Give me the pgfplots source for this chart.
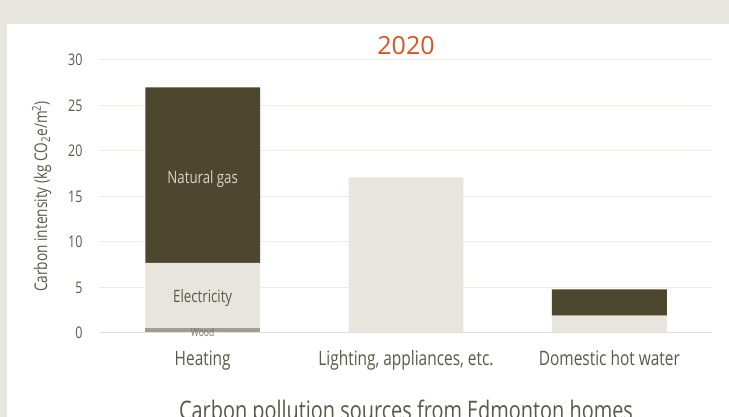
\documentclass[border=0pt]{standalone}
\usepackage{fontspec}
\setmainfont{Open Sans}[FakeStretch=0.78]
\newfontfamily\titlefont{Open Sans}
\usepackage{pgfplots}
\pgfplotsset{compat=1.18}

\definecolor{pagebg}{HTML}{E9E6DF}
\definecolor{darkbar}{HTML}{4D4730}
\definecolor{lightbar}{HTML}{E8E5DE}
\definecolor{woodbar}{HTML}{A09E93}
\definecolor{gridc}{HTML}{ECEAE4}
\definecolor{txt}{HTML}{5A5848}
\definecolor{gaslabel}{HTML}{D8D4C8}
\definecolor{orange2020}{HTML}{D9541E}

\begin{document}
\begin{tikzpicture}
\useasboundingbox (0pt,0pt) rectangle (729pt,417pt);
\fill[pagebg] (0pt,0pt) rectangle (729pt,417pt);
\fill[white] (7pt,0pt) rectangle (729pt,393pt);

\begin{axis}[
    at={(99pt,84pt)}, anchor=south west,
    scale only axis,
    width=613pt, height=273pt,
    xmin=-0.51, xmax=2.505,
    ymin=0, ymax=30,
    ytick={0,5,...,30},
    xtick={0,1,2},
    xticklabels={Heating, {Lighting, appliances, etc.}, Domestic hot water},
    ymajorgrids,
    grid style={gridc, line width=1pt},
    axis line style={draw=none},
    major tick length=0pt,
    ybar stacked,
    bar width=0.565,
    /pgf/number format/assume math mode=true,
    yticklabel style={font=\fontsize{16}{18}\selectfont, text=txt, xshift=-13pt},
    xticklabel style={font=\fontsize{19.8}{22}\selectfont, text=txt, yshift=-14pt},
    ylabel={Carbon intensity (kg CO\textsubscript{2}e/m\textsuperscript{2})},
    ylabel style={font=\fontsize{17.5}{20}\selectfont, text=txt, yshift=10pt},
    clip=false,
]
\addplot[fill=woodbar, draw=none] coordinates {(0,0.5) (1,0) (2,0)};
\addplot[fill=lightbar, draw=none] coordinates {(0,7.2) (1,17.1) (2,1.9)};
\addplot[fill=darkbar, draw=none] coordinates {(0,19.3) (1,0) (2,2.9)};
\coordinate (gasC) at (axis cs:0,16.9);
\coordinate (elecC) at (axis cs:0,3.8);
\coordinate (woodC) at (axis cs:0,0.05);
\coordinate (xl) at (axis cs:-0.51,0);
\coordinate (xr) at (axis cs:2.505,0);
\end{axis}

\draw[black!13, line width=1pt] (xl) -- (xr);
\node[text=gaslabel, font=\fontsize{17}{19}\selectfont] at (gasC) {Natural gas};
\node[text=txt, font=\fontsize{17}{19}\selectfont] at (elecC) {Electricity};
\node[text=txt!85, font=\fontsize{11}{12}\selectfont] at (woodC) {Wood};

\node[anchor=base, text=orange2020, font=\titlefont\fontsize{25}{28}\selectfont] at (406pt,362pt) {2020};
\node[anchor=base, text=txt, font=\fontsize{25.5}{30}\selectfont] at (406pt,-3pt) {Carbon pollution sources from Edmonton homes};
\end{tikzpicture}
\end{document}
